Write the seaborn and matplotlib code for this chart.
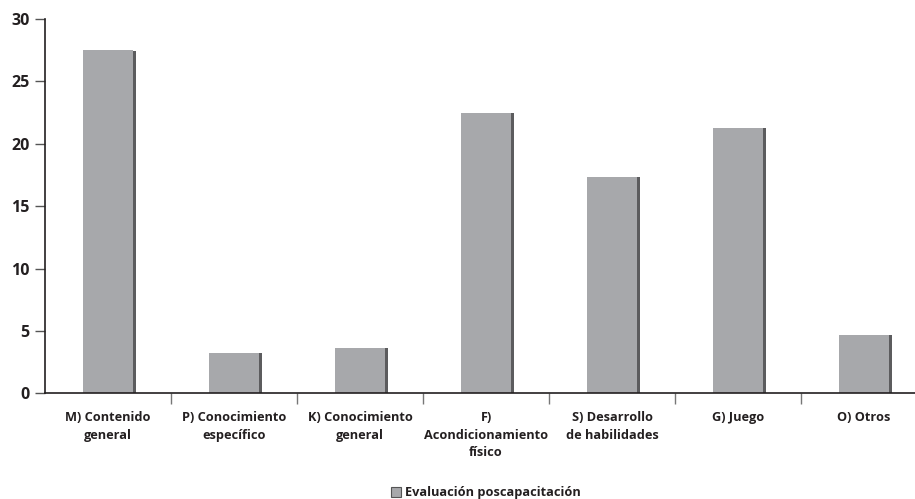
import matplotlib
matplotlib.use("Agg")
import matplotlib.pyplot as plt
import matplotlib.patheffects as pe
from matplotlib.patches import Patch
from matplotlib.ticker import FixedLocator, NullFormatter
import seaborn as sns
import pandas as pd

# Categories and values
categories = [
    "M) Contenido\ngeneral",
    "P) Conocimiento\nespecífico",
    "K) Conocimiento\ngeneral",
    "F)\nAcondicionamiento\nfísico",
    "S) Desarrollo\nde habilidades",
    "G) Juego",
    "O) Otros",
]
values = [27.5, 3.25, 3.65, 22.5, 17.35, 21.3, 4.7]
series_name = "Evaluación poscapacitación"
y_ticks = [0, 5, 10, 15, 20, 25, 30]

df = pd.DataFrame({"categoria": categories, "valor": values})

sns.set_theme(style="white")
plt.rcParams["font.family"] = ["Open Sans", "DejaVu Sans"]
plt.rcParams["font.weight"] = "bold"

text_color = "#231f20"
bar_color = "#a7a8ab"

fig = plt.figure(figsize=(9.15, 4.99), dpi=100)
ax = fig.add_axes([45 / 915, 105.7 / 499, 882 / 915, 374.3 / 499])

sns.barplot(data=df, x="categoria", y="valor", color=bar_color, width=0.39,
            ax=ax, saturation=1)

for bar in ax.patches:
    bar.set_edgecolor("none")
    bar.set_path_effects([
        pe.SimplePatchShadow(offset=(2.4, -0.4), shadow_rgbFace="#4a4a4c", alpha=0.9),
        pe.Normal(),
    ])

ax.set_xlim(-0.5, 6.5)
ax.set_ylim(0, 30)
ax.set_yticks(y_ticks)
ax.set_xlabel("")
ax.set_ylabel("")

for side in ["top", "right"]:
    ax.spines[side].set_visible(False)
for side in ["left", "bottom"]:
    ax.spines[side].set_color(text_color)
    ax.spines[side].set_linewidth(1.2)

ax.tick_params(axis="y", which="major", left=True, length=7, width=1.0,
               color="#555555", labelsize=11.5, labelcolor=text_color, pad=4)
ax.tick_params(axis="x", which="major", bottom=False, length=0,
               labelsize=9.2, labelcolor=text_color, pad=13)
for lbl in ax.get_yticklabels():
    lbl.set_fontweight("bold")
for lbl in ax.get_xticklabels():
    lbl.set_fontweight("bold")
    lbl.set_linespacing(1.45)

# Separators between categories
ax.xaxis.set_minor_locator(FixedLocator([0.5, 1.5, 2.5, 3.5, 4.5, 5.5]))
ax.xaxis.set_minor_formatter(NullFormatter())
ax.tick_params(axis="x", which="minor", bottom=True, length=8, width=1.0,
               color="#777777", direction="out")

handles = [Patch(facecolor=bar_color, edgecolor="#555555", linewidth=0.8,
                 label=series_name)]
leg = ax.legend(handles=handles, loc="center", bbox_to_anchor=(0.5, -0.266),
                frameon=False, fontsize=9.2, handlelength=0.75, handleheight=0.75,
                handletextpad=0.35, borderaxespad=0)
for t in leg.get_texts():
    t.set_color(text_color)
    t.set_fontweight("bold")

fig.savefig("out.png", dpi=100, facecolor="white")
